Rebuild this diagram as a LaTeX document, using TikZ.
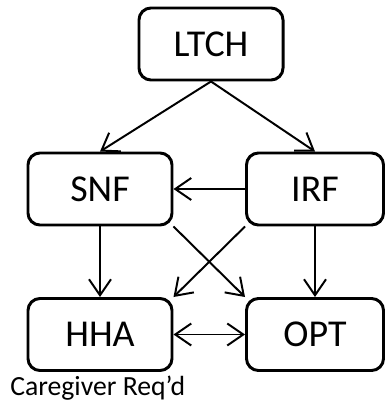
\documentclass[tikz,border=0pt]{standalone}
\usepackage{fontspec}
\setmainfont{Carlito}
\usepackage{tikz}
\usetikzlibrary{arrows.meta}

\begin{document}
\begin{tikzpicture}[x=0.025cm,y=-0.025cm,
  >={Straight Barb[length=0.4cm,width=0.55cm,line width=1.4pt]},
  care/.style={draw,line width=2.1pt,rounded corners=0.3cm,minimum width=3.6cm,
    minimum height=1.8cm,font=\fontsize{27}{30}\selectfont},
  flow/.style={line width=1.4pt}]
\useasboundingbox (0,0) rectangle (385,400);
\node[care]		(LTCH) at (211,44)	{LTCH};
  \node[care]		(SNF) at (100,189)	{SNF};
  \node[care,minimum width=3.425cm]	(IRF) at (315,189)	{IRF};
  \node[care]		(HHA) at (100,334.5)	{HHA};
  \node[care,minimum width=3.425cm]	(OPT) at (315,334.5)	{OPT};
  \node[anchor=base west,inner sep=0pt,font=\fontsize{19.7}{22}\selectfont]
		(REQ) at (10,395)	{Caregiver Req’d};

  \path[flow,->]
		(LTCH.south) edge (SNF.north)
		(LTCH.south) edge (IRF.north)
		(IRF) edge (SNF)
		(SNF) edge (HHA)
		(IRF) edge (OPT)
		(SNF.south east) edge (OPT.north west)
		(IRF.south west) edge (HHA.north east);
  \draw[flow,<->] (HHA) -- (OPT);

\end{tikzpicture}
\end{document}
